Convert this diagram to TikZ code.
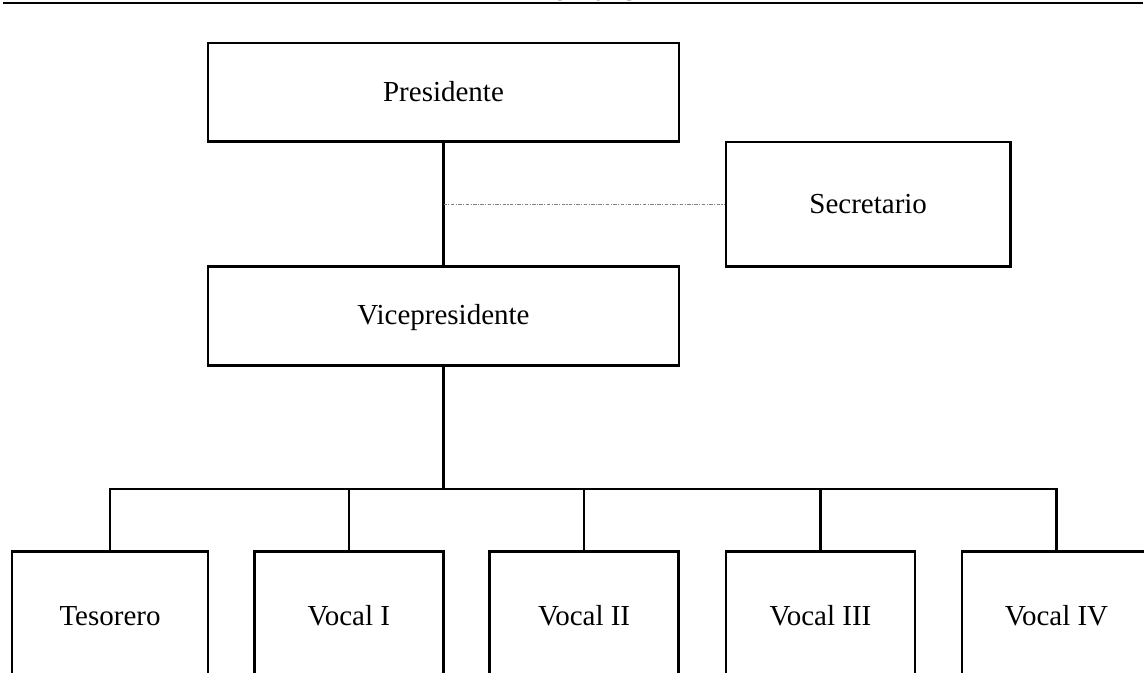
\documentclass[tikz,border=0pt]{standalone}
\usepackage{fontspec}
\setmainfont{Liberation Serif}
\usepackage{tikz}
\usetikzlibrary{calc}
\usetikzlibrary{positioning}
\tikzstyle{cargo} = [rectangle, draw = black, line width = 1.4pt, inner sep = 1, text height = 12.5pt, text depth = 2.5pt, font = \fontsize{16.5}{20}\selectfont]
\tikzstyle{vocal} = [cargo, minimum width = 3.78cm, minimum height = 2.62cm]
\tikzstyle{linea} = [-, draw = black, line width = 1.2pt]
\tikzstyle{enlace} = [-, draw = gray, line width = 0.7pt, dash pattern = on 2pt off 0.8pt on 0.6pt off 0.8pt]

\begin{document}
\begin{tikzpicture}[x = 0.02cm, y = -0.02cm]
\useasboundingbox (0, 0) rectangle (1144, 673);
\clip (0, 0) rectangle (1144, 673);
%\node [draw=none, align=center] at (575, -20) {Organigrama};
\node [draw = none, inner sep = 0, anchor = base, font = \fontsize{17.5}{20}\selectfont\bfseries] (anio) at (575, 0.2) {Año 2018};
\draw [line width = 1pt] (3, 3.2) -- (1143, 3.2);
\node [cargo, minimum width = 9.42cm, minimum height = 1.97cm] (pres) at (443.5, 92.4) {Presidente};
\node [cargo, minimum width = 9.42cm, minimum height = 1.98cm] (vice) at (443.5, 316.2) {Vicepresidente};
\node [cargo, minimum width = 5.69cm, minimum height = 2.49cm] (secr) at (868.2, 204.4) {Secretario};
\node [vocal, minimum width = 3.92cm] (tes) at (110, 617.2) {Tesorero};
\node [vocal] (v1) at (348.8, 617.2) {Vocal I};
\node [vocal] (v2) at (584.1, 617.2) {Vocal II};
\node [vocal] (v3) at (820.5, 617.2) {Vocal III};
\node [vocal] (v4) at (1056.5, 617.2) {Vocal IV};
\coordinate (bus) at (443.5, 489.3);
\draw [linea] (pres) -- (vice);
\draw [enlace] (pres.south |- secr.west) -- (secr.west);
\draw [linea] (vice) -- (bus);
\draw [linea] (tes.north) -- (tes.north |- bus) -- (v4.north |- bus) -- (v4.north);
\foreach \n in {v1, v2, v3}
  \draw [linea] (\n.north) -- (\n.north |- bus);
\end{tikzpicture}
\end{document}
